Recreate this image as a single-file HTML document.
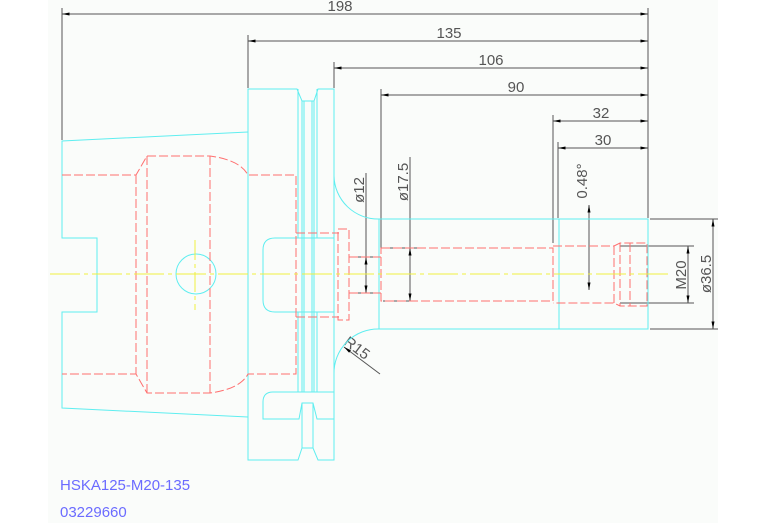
<!DOCTYPE html>
<html><head><style>
html,body{margin:0;padding:0;background:#fff;}
svg{display:block;}
text{font-family:"Liberation Sans",sans-serif;}
</style></head><body>
<svg width="767" height="523" viewBox="0 0 767 523" xmlns="http://www.w3.org/2000/svg">
<rect x="48" y="0" width="670" height="523" fill="#fafcfa"/>
<defs>
<marker id="a" viewBox="0 0 10 4" refX="10" refY="2" markerWidth="8" markerHeight="3" orient="auto-start-reverse" markerUnits="userSpaceOnUse"><path d="M0,0 L10,2 L0,4z" fill="#000"/></marker>
</defs>
<g stroke="#555" stroke-width="1" fill="none">
<line x1="62" y1="8" x2="62" y2="140"/>
<line x1="648" y1="8" x2="648" y2="218"/>
<line x1="248" y1="35" x2="248" y2="88"/>
<line x1="334" y1="62" x2="334" y2="88"/>
<line x1="381" y1="89" x2="381" y2="248"/>
<line x1="553" y1="115" x2="553" y2="243"/>
<line x1="558" y1="142" x2="558" y2="218"/>
<line x1="62" y1="14" x2="648" y2="14" marker-start="url(#a)" marker-end="url(#a)"/>
<line x1="248" y1="41" x2="648" y2="41" marker-start="url(#a)" marker-end="url(#a)"/>
<line x1="334" y1="68" x2="648" y2="68" marker-start="url(#a)" marker-end="url(#a)"/>
<line x1="381" y1="95" x2="648" y2="95" marker-start="url(#a)" marker-end="url(#a)"/>
<line x1="553" y1="121" x2="648" y2="121" marker-start="url(#a)" marker-end="url(#a)"/>
<line x1="558" y1="148" x2="648" y2="148" marker-start="url(#a)" marker-end="url(#a)"/>
<line x1="366" y1="173" x2="366" y2="293"/>
<line x1="350" y1="257" x2="380" y2="257"/>
<line x1="350" y1="293" x2="380" y2="293"/>
<line x1="366" y1="257" x2="366" y2="293" marker-start="url(#a)" marker-end="url(#a)"/>
<line x1="410" y1="157" x2="410" y2="301"/>
<line x1="383" y1="248" x2="417" y2="248"/>
<line x1="383" y1="301" x2="417" y2="301"/>
<line x1="410" y1="248" x2="410" y2="301" marker-start="url(#a)" marker-end="url(#a)"/>
<line x1="589" y1="205" x2="589" y2="290" marker-start="url(#a)" marker-end="url(#a)"/>
<line x1="620" y1="246" x2="694" y2="246"/>
<line x1="620" y1="303" x2="694" y2="303"/>
<line x1="688" y1="246" x2="688" y2="303" marker-start="url(#a)" marker-end="url(#a)"/>
<line x1="650" y1="219" x2="718" y2="219"/>
<line x1="650" y1="329" x2="718" y2="329"/>
<line x1="713" y1="219" x2="713" y2="329" marker-start="url(#a)" marker-end="url(#a)"/>
<line x1="380" y1="374" x2="344" y2="347" marker-end="url(#a)"/>
</g>
<g fill="#555" font-size="15">
<text x="340" y="11" text-anchor="middle">198</text>
<text x="449" y="38" text-anchor="middle">135</text>
<text x="491" y="65" text-anchor="middle">106</text>
<text x="516" y="92" text-anchor="middle">90</text>
<text x="601" y="118" text-anchor="middle">32</text>
<text x="603" y="145" text-anchor="middle">30</text>
<text transform="translate(364,190) rotate(-90)" text-anchor="middle">ø12</text>
<text transform="translate(408,182) rotate(-90)" text-anchor="middle">ø17.5</text>
<text transform="translate(587,181) rotate(-90)" text-anchor="middle">0.48°</text>
<text transform="translate(686,275) rotate(-90)" text-anchor="middle">M20</text>
<text transform="translate(711,274) rotate(-90)" text-anchor="middle">ø36.5</text>
<text transform="translate(354,352) rotate(37)" text-anchor="middle">R15</text>
</g>
<g stroke="#5feef0" stroke-width="1" fill="none">
<path d="M248,132 L62,141 L62,238 L97,238 L97,312 L62,312 L62,408 L248,417"/>
<path d="M248,89 L297,89 L302,101 L314,101 L318,89 L334,89 L334,460 L318,460 L313,448 L302,448 L298,460 L248,460 Z"/>
<line x1="302" y1="101" x2="302" y2="392"/>
<line x1="304" y1="101" x2="304" y2="392"/>
<line x1="312" y1="101" x2="312" y2="392"/>
<line x1="314" y1="101" x2="314" y2="392"/>
<line x1="298" y1="89" x2="298" y2="238"/>
<line x1="317" y1="89" x2="317" y2="238"/>
<line x1="298" y1="312" x2="298" y2="392"/>
<line x1="317" y1="312" x2="317" y2="392"/>
<path d="M334,238 L275,238 Q263,238 263,250 L263,300 Q263,312 275,312 L334,312"/>
<path d="M334,392 L273,392 Q263,392 263,402 L263,419 L299,419 L302,403 L313,403 L317,419 L334,419"/>
<line x1="302" y1="403" x2="302" y2="448"/>
<line x1="313" y1="403" x2="313" y2="448"/>
<circle cx="196" cy="274" r="20"/>
<rect x="379" y="219" width="269" height="110"/>
<line x1="559" y1="219" x2="559" y2="329"/>
<path d="M334,176 A44,44 0 0 0 379,219"/>
<path d="M379,329 A44,44 0 0 0 334,374"/>
</g>
<g stroke="#ff6f6f" stroke-width="1" fill="none" stroke-dasharray="9,3">
<path d="M62,175 L136,175 L147,156 L210,156 Q240,160 248,175 L296,175 L296,374 L248,374 Q240,389 210,393 L147,393 L136,374 L62,374"/>
<line x1="136" y1="175" x2="136" y2="374"/>
<line x1="147" y1="156" x2="147" y2="393"/>
<line x1="210" y1="156" x2="210" y2="393"/>
<path d="M296,233 L339,233 M296,317 L339,317"/>
<rect x="338" y="229" width="11" height="91"/>
<path d="M349,257 L381,257 M349,293 L381,293"/>
<path d="M381,248 L553,248 L553,301 L381,301 Z"/>
<path d="M553,246 L614,246 L620,243 L647,243 L647,306 L620,306 L614,303 L553,303"/>
<line x1="614" y1="246" x2="614" y2="303"/>
<line x1="620" y1="243" x2="620" y2="306"/>
<line x1="630" y1="243" x2="630" y2="306"/>
</g>
<g stroke="#f0f040" stroke-width="1">
<line x1="50" y1="274" x2="668" y2="274" stroke-dasharray="30,4,4,4"/>
<line x1="195" y1="240" x2="195" y2="310" stroke-dasharray="20,4,4,4"/>
</g>
<g fill="#6b6bff" font-size="15">
<text x="60" y="490">HSKA125-M20-135</text>
<text x="60" y="517">03229660</text>
</g>
</svg>
</body></html>
